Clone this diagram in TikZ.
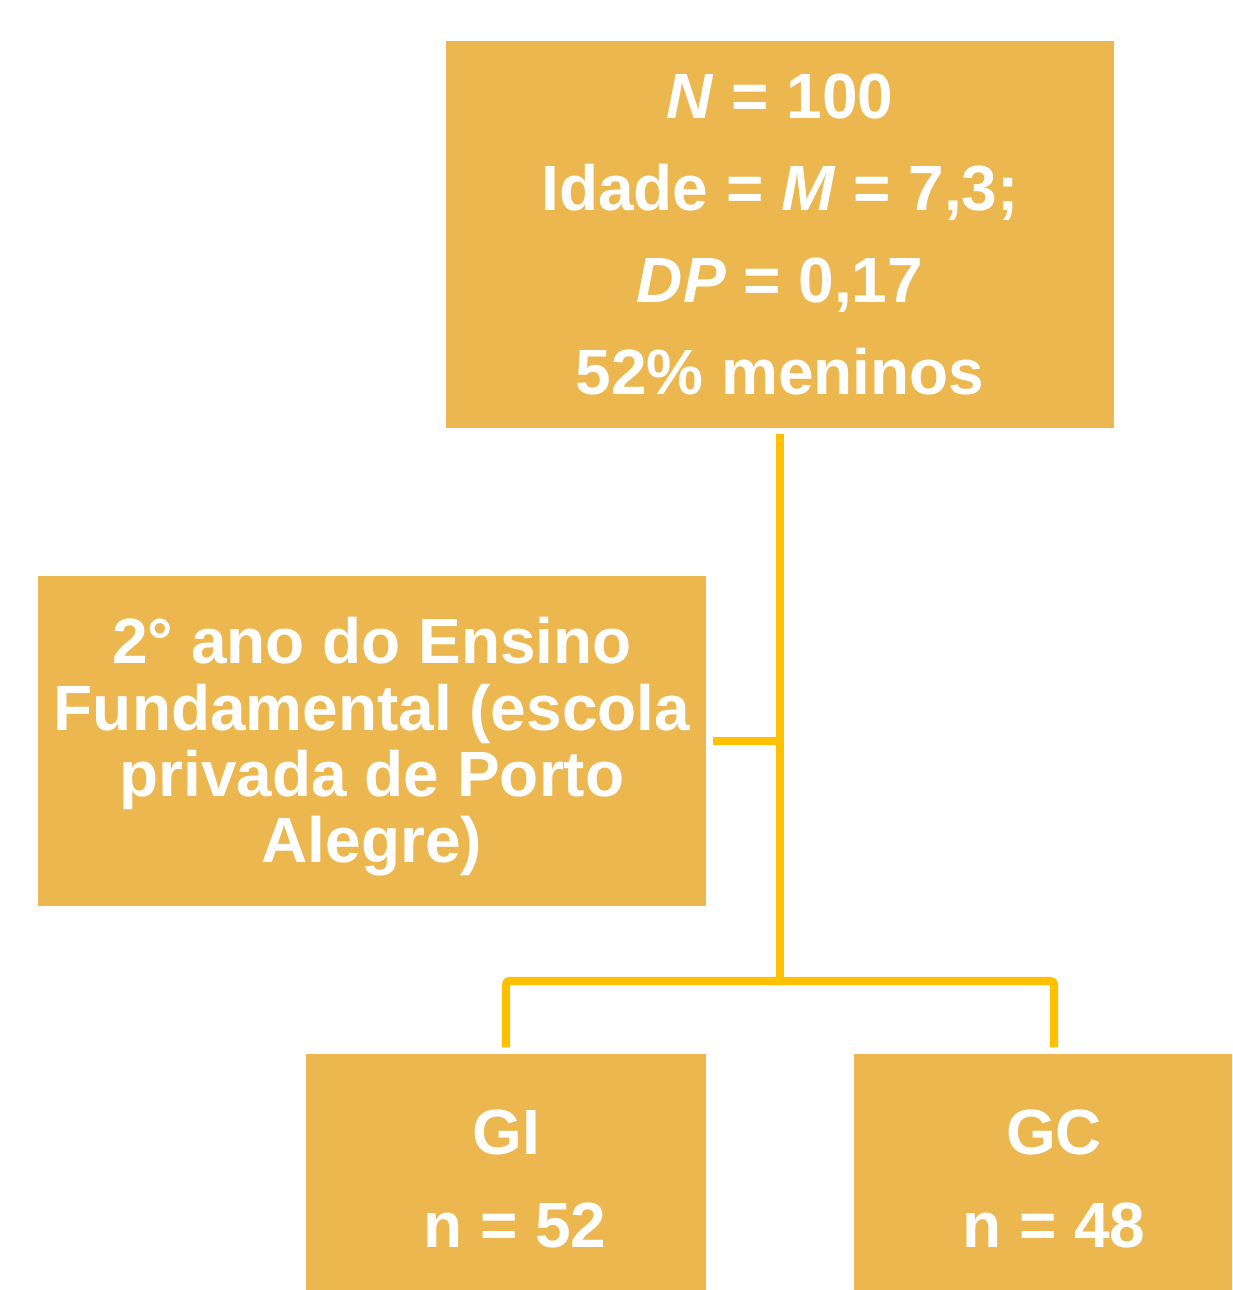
\documentclass[tikz,border=0pt]{standalone}
\usepackage{fontspec}
\setmainfont{Liberation Sans}
\definecolor{caixa}{HTML}{EBB74E}
\definecolor{linha}{HTML}{FFC000}
\tikzset{
  bloco/.style={fill=caixa, text=white, align=center, inner sep=0pt,
    font=\bfseries\fontsize{18.2}{26.2}\selectfont, minimum width=6.68cm},
  ramo/.style={draw=linha, line width=2.3pt}
}

\begin{document}
\begin{tikzpicture}
                % page size
                \useasboundingbox (0,0) rectangle (12.32,12.90);
                \clip (0,0) rectangle (12.32,12.90);

                % Sample box
                \node[bloco, minimum height=3.87cm] (amostra) at (7.80,10.555)
                    {\textit{N} = 100\\ Idade = \textit{M} = 7,3;\\ \textit{DP} = 0,17\\ 52\% meninos};

                % School box
                \node[bloco, minimum height=3.30cm, font=\bfseries\fontsize{18.2}{18.9}\selectfont] (escola) at (3.72,5.49)
                    {\rule{0pt}{0.58cm}2° ano do Ensino\\ Fundamental (escola\\ privada de Porto\\ Alegre)};

                % Groups
                \node[bloco, minimum width=4.0cm, minimum height=2.5cm] (gi) at (5.06,1.11) {GI\\ \ n = 52};
                \node[bloco, minimum width=4.0cm, minimum height=2.5cm] (gc) at (10.54,1.11) {GC\\ n = 48};

                % Connectors
                \coordinate (split) at (7.80,3.09);
                \draw[ramo] ([yshift=-0.05cm]amostra.south) -- (split);
                \draw[ramo] ([xshift=0.06cm]escola.east) -- (escola.east -| split);
                \draw[ramo, rounded corners=1pt] ([yshift=0.06cm]gi.north) |- (split) -| ([yshift=0.06cm]gc.north);
\end{tikzpicture}
\end{document}
